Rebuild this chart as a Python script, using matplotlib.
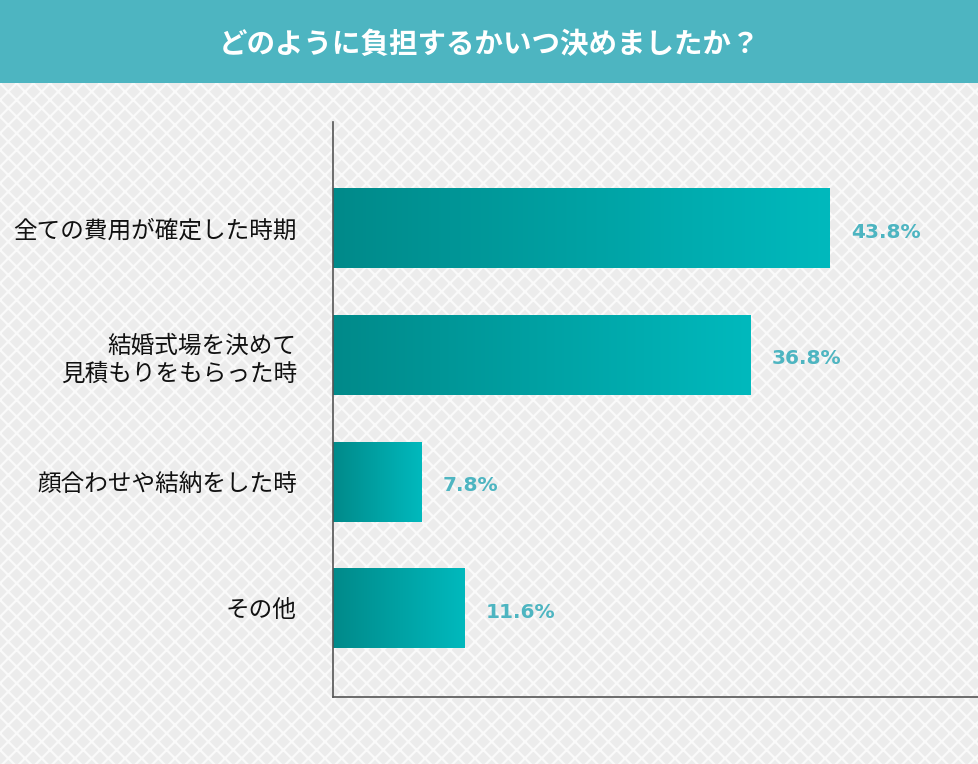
import matplotlib.pyplot as plt
import numpy as np
from matplotlib.patches import Rectangle
from matplotlib.colors import LinearSegmentedColormap

plt.rcParams['font.family'] = ['Noto Sans CJK JP', 'DejaVu Sans']
plt.rcParams['hatch.linewidth'] = 1.6

# data
title = "どのように負担するかいつ決めましたか？"
categories = ["全ての費用が確定した時期", "結婚式場を決めて\n見積もりをもらった時",
              "顔合わせや結納をした時", "その他"]
values = [43.8, 36.8, 7.8, 11.6]
value_labels = ["43.8%", "36.8%", "7.8%", "11.6%"]

W, H = 979, 764
fig = plt.figure(figsize=(W / 100, H / 100), dpi=100)

# background with diamond lattice
bg = fig.add_axes([0, 0, 1, 1])
bg.set_xlim(0, W)
bg.set_ylim(H, 0)
bg.axis('off')
bg.add_patch(Rectangle((0, 83), W, H - 83, facecolor='#ececec',
                       edgecolor='#fafafa', hatch='xx', linewidth=0))
bg.add_patch(Rectangle((0, 0), W, 83, facecolor='#4db5c1', linewidth=0))
bg.text(W / 2, 45, title, color='white', fontsize=20.5, fontweight='bold',
        ha='center', va='center')

# main axes
x0, x1 = 333, 979
y0, y1 = 122, 697
ax = fig.add_axes([x0 / W, 1 - y1 / H, (x1 - x0) / W, (y1 - y0) / H])
ax.patch.set_alpha(0)
pos = np.arange(len(categories))
bars = ax.barh(pos, values, height=0.63, color='none')

cmap = LinearSegmentedColormap.from_list('teal', ['#008a8a', '#00b9bd'])
grad = np.linspace(0, 1, 256).reshape(1, -1)
for b in bars:
    bx, by = b.get_x(), b.get_y()
    bw, bh = b.get_width(), b.get_height()
    ax.imshow(grad, cmap=cmap, aspect='auto',
              extent=[bx, bx + bw, by + bh, by], zorder=2)
ax.set_xlim(0, 57.0)
ax.set_ylim(3.70, -0.84)

for p, v, lab in zip(pos, values, value_labels):
    ax.text(v + 1.9, p + 0.03, lab, color='#4db5c1', fontsize=14.5, fontweight='bold',
            ha='left', va='center', family=['DejaVu Sans'])

ax.set_yticks(pos)
ax.set_yticklabels(categories, fontsize=17, color='#111111', linespacing=1.3)
ax.tick_params(axis='y', length=0, pad=26)
ax.set_xticks([])
for s in ['top', 'right']:
    ax.spines[s].set_visible(False)
for s in ['left', 'bottom']:
    ax.spines[s].set_color('#555555')
    ax.spines[s].set_linewidth(1.2)

fig.savefig('out.png', dpi=100)
